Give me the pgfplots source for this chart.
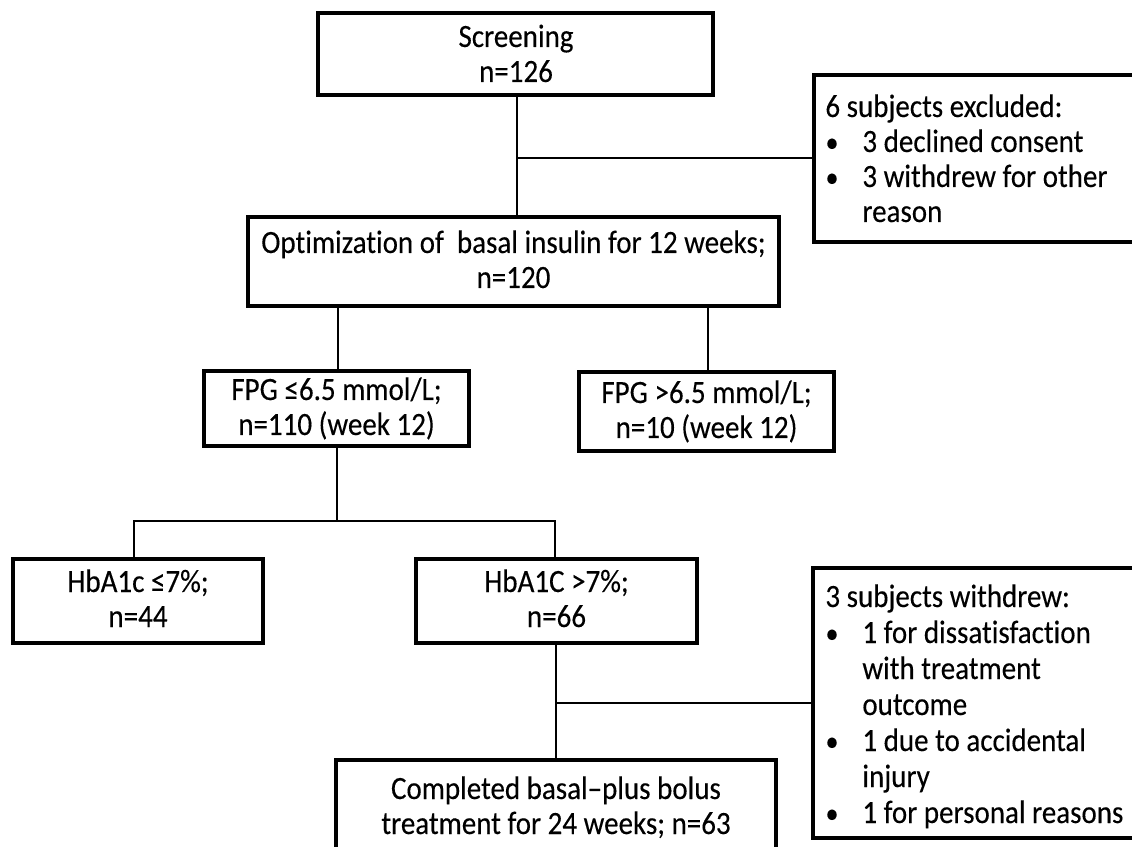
\documentclass[border=0pt]{standalone}
\usepackage{pgfplots}
\pgfplotsset{compat=1.18}
\usepackage{graphicx}
\usepackage{fontspec}
\setmainfont{Carlito}[FakeBold=0.25, Ligatures={NoCommon}]
\newcommand\T[1]{\scalebox{1}[1.12]{#1}}
\newcommand\B{\T{\fontsize{13pt}{13pt}\selectfont •}}
\tikzset{
  box/.style={line width=1.6pt, line join=miter},
  conn/.style={line width=0.8pt},
  txt/.style={font=\fontsize{14.5pt}{17.5pt}\selectfont, inner sep=0pt, anchor=base},
  ltxt/.style={font=\fontsize{14.5pt}{17.5pt}\selectfont, inner sep=0pt, anchor=base west},
}
\begin{document}
\begin{tikzpicture}
\begin{axis}[name=ax, at={(0,0)}, anchor=south west, scale only axis,
  width=566pt, height=423pt, xmin=0, xmax=1132, ymin=0, ymax=846,
  hide axis, clip=true,
  every axis plot/.append style={black, mark=none}]
% boxes (closed outlines, first segment repeated for clean corners)
\addplot[box] coordinates {(318,833) (713,833) (713,751) (318,751) (318,833) (713,833)};
\addplot[box] coordinates {(814,771) (1145,771) (1145,604) (814,604) (814,771) (1145,771)};
\addplot[box] coordinates {(248,629) (779,629) (779,540) (248,540) (248,629) (779,629)};
\addplot[box] coordinates {(204,475) (469,475) (469,400) (204,400) (204,475) (469,475)};
\addplot[box] coordinates {(579,474) (834,474) (834,395) (579,395) (579,474) (834,474)};
\addplot[box] coordinates {(13,287) (263,287) (263,203) (13,203) (13,287) (263,287)};
\addplot[box] coordinates {(416,287) (697,287) (697,203) (416,203) (416,287) (697,287)};
\addplot[box] coordinates {(813,278) (1145,278) (1145,8) (813,8) (813,278) (1145,278)};
\addplot[box] coordinates {(336,86) (776,86) (776,-20) (336,-20) (336,86) (776,86)};
% connectors
\addplot[conn] coordinates {(517,751) (517,629)};
\addplot[conn] coordinates {(517,688) (814,688)};
\addplot[conn] coordinates {(338,540) (338,475)};
\addplot[conn] coordinates {(708,540) (708,474)};
\addplot[conn] coordinates {(337,400) (337,325)};
\addplot[conn] coordinates {(134,287) (134,325) (555,325) (555,287)};
\addplot[conn] coordinates {(556,203) (556,86)};
\addplot[conn] coordinates {(556,143) (813,143)};
% texts
\node[txt] at (axis cs:516,799) {\T{Screening}};
\node[txt] at (axis cs:516,764) {\T{n=126}};
\node[txt] at (axis cs:513.5,593) {\T{Optimization of~~basal insulin for 12 weeks;}};
\node[txt] at (axis cs:513.5,558) {\T{n=120}};
\node[txt] at (axis cs:336.5,446) {\T{FPG ≤6.5 mmol/L;}};
\node[txt] at (axis cs:336.5,411) {\T{n=110 (week 12)}};
\node[txt] at (axis cs:706.5,443) {\T{FPG >6.5 mmol/L;}};
\node[txt] at (axis cs:706.5,408) {\T{n=10 (week 12)}};
\node[txt] at (axis cs:138,254) {\T{HbA1c ≤7\%;}};
\node[txt] at (axis cs:138,219) {\T{n=44}};
\node[txt] at (axis cs:556.5,254) {\T{HbA1C >7\%;}};
\node[txt] at (axis cs:556.5,219) {\T{n=66}};
\node[txt] at (axis cs:556,47) {\T{Completed basal–plus bolus}};
\node[txt] at (axis cs:556,12) {\T{treatment for 24 weeks; n=63}};
% excluded box
\node[ltxt] at (axis cs:825,729) {\T{6 subjects excluded:}};
\node[txt] at (axis cs:832,694) {\B};
\node[ltxt] at (axis cs:862,694) {\T{3 declined consent}};
\node[txt] at (axis cs:832,659) {\B};
\node[ltxt] at (axis cs:862,659) {\T{3 withdrew for other}};
\node[ltxt] at (axis cs:862,624) {\T{reason}};
% withdrew box
\node[ltxt] at (axis cs:825,239) {\T{3 subjects withdrew:}};
\node[txt] at (axis cs:832,203) {\B};
\node[ltxt] at (axis cs:862,203) {\T{1 for dissatisfaction}};
\node[ltxt] at (axis cs:862,167) {\T{with treatment}};
\node[ltxt] at (axis cs:862,131) {\T{outcome}};
\node[txt] at (axis cs:832,95) {\B};
\node[ltxt] at (axis cs:862,95) {\T{1 due to accidental}};
\node[ltxt] at (axis cs:862,59) {\T{injury}};
\node[txt] at (axis cs:832,23) {\B};
\node[ltxt] at (axis cs:862,23) {\T{1 for personal reasons}};
\end{axis}
\pgfresetboundingbox
\path (ax.south west) rectangle (ax.north east);
\end{tikzpicture}
\end{document}
